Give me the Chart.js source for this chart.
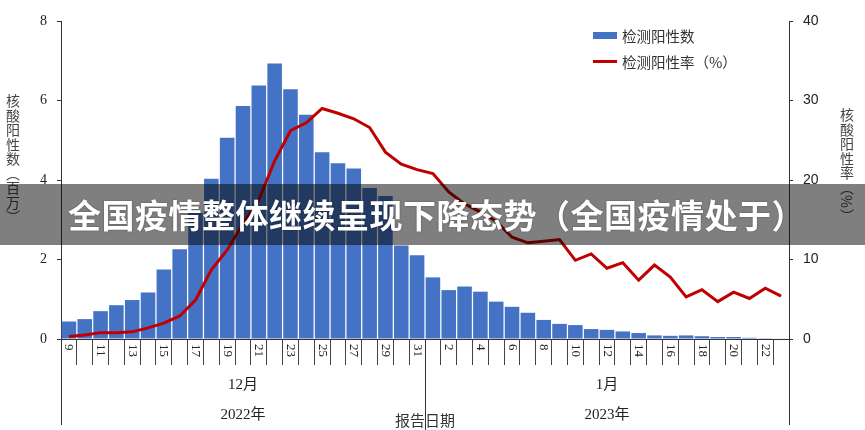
<!DOCTYPE html>
<html>
<head>
<meta charset="utf-8">
<script src="https://cdn.jsdelivr.net/npm/chart.js@4.4.0/dist/chart.umd.min.js"></script>
<style>
  body { margin: 0; background: #fff; }
  #wrap { position: relative; width: 865px; height: 430px; overflow: hidden; }
  canvas { position: absolute; left: 0; top: 0; }
  .vtitle { position: absolute; writing-mode: vertical-rl; font-family: 'Noto Sans CJK SC', sans-serif;
            font-size: 14px; color: #444; letter-spacing: 0.5px; line-height: 14px; }
  .legend { position: absolute; font-family: 'Noto Sans CJK SC', sans-serif; font-size: 14.5px; color: #333; }
  .legend span { position: absolute; white-space: nowrap; }
  #banner { position: absolute; left: 0; top: 184px; width: 865px; height: 61px; background: rgba(0,0,0,0.5); }
  #banner div { position: absolute; left: 68px; top: 10px; font-family: 'Noto Sans CJK SC', sans-serif;
                font-weight: 700; font-size: 33px; letter-spacing: 0.5px; line-height: 40px; color: #fff; white-space: nowrap;
                text-shadow: 0 0 2px rgba(0,0,0,0.4); }
</style>
</head>
<body>
<div id="wrap">
  <canvas id="chartCanvas" width="865" height="430"></canvas>
  <div class="vtitle" style="left:6px; top:94px;">核酸阳性数（百万）</div>
  <div class="vtitle" style="left:840px; top:108px;">核酸阳性率（%）</div>
  <div class="legend">
    <span style="left:593px; top:32px; width:24px; height:7px; background:#4472C4;"></span>
    <span style="left:622px; top:25px;">检测阳性数</span>
    <span style="left:593px; top:60px; width:24px; height:3px; background:#C00000;"></span>
    <span style="left:622px; top:51px;">检测阳性率（%）</span>
  </div>
  <div id="banner"><div>全国疫情整体继续呈现下降态势（全国疫情处于）</div></div>
</div>
<script>
// 报告日期: 2022-12-09 .. 2023-01-23
const days = ['9','10','11','12','13','14','15','16','17','18','19','20','21','22','23','24','25','26','27','28','29','30','31',
              '1','2','3','4','5','6','7','8','9','10','11','12','13','14','15','16','17','18','19','20','21','22','23'];
const positives = [0.44,0.50,0.70,0.85,0.98,1.17,1.75,2.26,3.17,4.03,5.06,5.86,6.38,6.93,6.28,5.64,4.70,4.42,4.29,3.80,3.60,2.35,2.11,
                   1.55,1.23,1.32,1.19,0.94,0.81,0.66,0.48,0.38,0.35,0.25,0.23,0.19,0.15,0.09,0.08,0.09,0.07,0.05,0.05,0.03,0.02,0.01];
const positiveRate = [0.3,0.5,0.8,0.8,0.9,1.4,2.0,2.9,4.9,8.7,11.2,14.5,17.5,22.4,26.2,27.2,29.0,28.4,27.7,26.6,23.5,22.0,21.3,
                      20.8,18.5,17.0,16.0,14.8,12.8,12.1,12.3,12.5,9.9,10.7,8.9,9.6,7.4,9.3,7.8,5.3,6.2,4.7,5.9,5.1,6.4,5.4];
const monthLabels = ['12月','1月'];
const yearLabels = ['2022年','2023年'];
const monthSplit = 23; // first index of January

const serif = "'Liberation Serif', 'Noto Sans CJK SC', serif";
const sans = "'Liberation Sans', 'Noto Sans CJK SC', sans-serif";

const axisExtras = {
  id: 'axisExtras',
  afterDraw(chart) {
    const ctx = chart.ctx;
    const x = chart.scales.x;
    const area = chart.chartArea;
    ctx.save();
    // rotated day labels, every other day
    ctx.fillStyle = '#222';
    ctx.font = '13px ' + serif;
    ctx.textAlign = 'left';
    ctx.textBaseline = 'middle';
    days.forEach((d, i) => {
      if (i % 2 !== 0) return;
      ctx.save();
      ctx.translate(x.getPixelForValue(i), area.bottom + 5);
      ctx.rotate(Math.PI / 2);
      ctx.fillText(d, 0, 0);
      ctx.restore();
    });
    // axis lines running down past the tick area
    ctx.strokeStyle = '#333';
    ctx.lineWidth = 1;
    ctx.beginPath();
    ctx.moveTo(area.left + 0.5, area.bottom); ctx.lineTo(area.left + 0.5, 425);
    ctx.moveTo(area.right + 0.5, area.bottom); ctx.lineTo(area.right + 0.5, 425);
    const split = (x.getPixelForValue(monthSplit - 1) + x.getPixelForValue(monthSplit)) / 2;
    ctx.moveTo(Math.round(split) + 0.5, area.bottom); ctx.lineTo(Math.round(split) + 0.5, 430);
    ctx.stroke();
    // month and year labels
    const centers = [
      (x.getPixelForValue(0) + x.getPixelForValue(monthSplit - 1)) / 2,
      (x.getPixelForValue(monthSplit) + x.getPixelForValue(days.length - 1)) / 2
    ];
    ctx.textAlign = 'center';
    ctx.font = '15px ' + serif;
    centers.forEach((c, i) => {
      ctx.fillText(monthLabels[i], c, 385);
      ctx.fillText(yearLabels[i], c, 415);
    });
    ctx.font = "15px 'Noto Sans CJK SC', sans-serif";
    ctx.fillStyle = '#333';
    ctx.fillText('报告日期', split, 420);
    ctx.restore();
  }
};

const ctx = document.getElementById('chartCanvas').getContext('2d');
new Chart(ctx, {
  data: {
    labels: days,
    datasets: [{
      type: 'line',
      label: '检测阳性率（%）',
      data: positiveRate,
      yAxisID: 'y1',
      borderColor: '#C00000',
      borderWidth: 3,
      pointRadius: 0,
      tension: 0,
      order: 1
    }, {
      type: 'bar',
      label: '检测阳性数',
      data: positives,
      yAxisID: 'y',
      backgroundColor: '#4472C4',
      barPercentage: 1,
      categoryPercentage: 0.92,
      order: 2
    }]
  },
  options: {
    responsive: false,
    devicePixelRatio: 1,
    animation: false,
    layout: { padding: { top: 21, left: 0, right: 0, bottom: 0 } },
    plugins: { legend: { display: false }, tooltip: { enabled: false } },
    scales: {
      x: {
        type: 'category',
        offset: true,
        grid: { offset: true, drawOnChartArea: false, drawTicks: true, tickLength: 26, color: '#444' },
        border: { color: '#333' },
        ticks: { display: false, autoSkip: false },
        afterFit: (s) => { s.height = 91; }
      },
      y: {
        position: 'left',
        min: 0,
        max: 8,
        ticks: { stepSize: 2, padding: 10, color: '#222', font: { size: 14, family: serif } },
        grid: { drawOnChartArea: false, tickLength: 4, color: '#333' },
        border: { color: '#333' },
        afterFit: (s) => { s.width = 61; }
      },
      y1: {
        position: 'right',
        min: 0,
        max: 40,
        ticks: { stepSize: 10, padding: 10, color: '#222', font: { size: 14, family: sans } },
        grid: { drawOnChartArea: false, tickLength: 4, color: '#333' },
        border: { color: '#333' },
        afterFit: (s) => { s.width = 76; }
      }
    }
  },
  plugins: [axisExtras]
});
</script>
</body>
</html>
